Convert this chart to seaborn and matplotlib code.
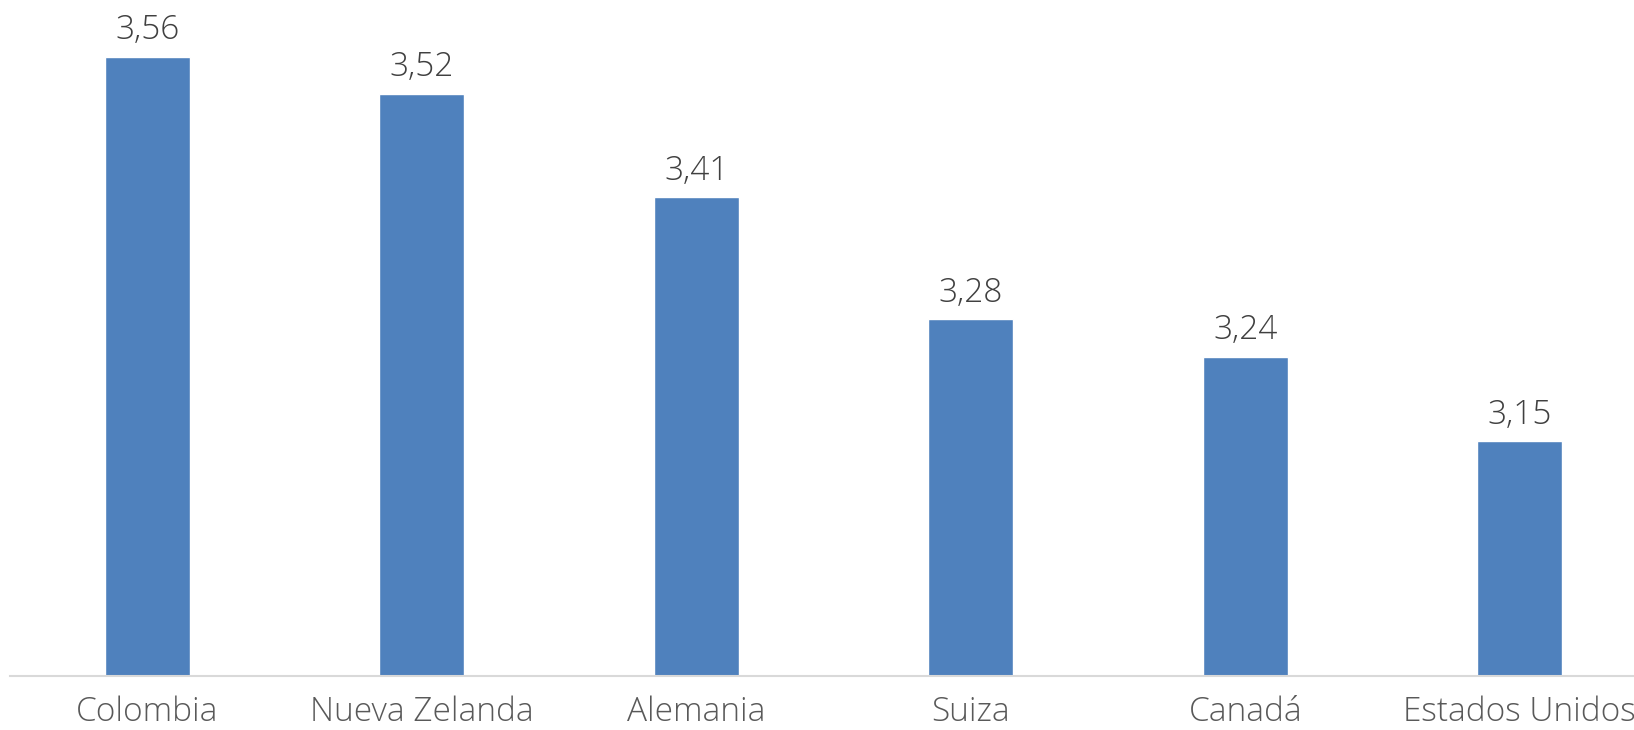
import matplotlib
matplotlib.use("Agg")
import matplotlib.pyplot as plt
import seaborn as sns
import pandas as pd

categories = ["Colombia", "Nueva Zelanda", "Alemania", "Suiza", "Canadá", "Estados Unidos"]
values = [3.56, 3.52, 3.41, 3.28, 3.24, 3.15]
value_labels = [f"{v:.2f}".replace(".", ",") for v in values]

sns.set_theme(style="white")
plt.rcParams["font.family"] = ["Open Sans", "DejaVu Sans"]

df = pd.DataFrame({"pais": categories, "valor": values})

W, H = 1634, 730
fig = plt.figure(figsize=(W / 100, H / 100), dpi=100)
fig.patch.set_facecolor("white")
ax = fig.add_axes([10 / W, (H - 676) / H, 1647 / W, (676 - 19) / H])

sns.barplot(data=df, x="pais", y="valor", color="#4F81BD", saturation=1, width=0.31, ax=ax)

ax.set_ylim(2.9, 3.6)
ax.set_xlim(-0.5, len(categories) - 0.5)
ax.bar_label(ax.containers[0], labels=value_labels, padding=7, fontsize=24,
             color="#404040", fontweight="light")

for s in ["top", "right", "left"]:
    ax.spines[s].set_visible(False)
ax.spines["bottom"].set_color("#D9D9D9")
ax.spines["bottom"].set_linewidth(1.5)
ax.set_yticks([])
ax.set_xlabel("")
ax.set_ylabel("")
ax.tick_params(axis="x", length=0, pad=14, labelsize=24, labelcolor="#595959")
for t in ax.get_xticklabels():
    t.set_fontweight("light")
ax.set_facecolor("white")

fig.savefig("out.png", dpi=100, facecolor="white")
